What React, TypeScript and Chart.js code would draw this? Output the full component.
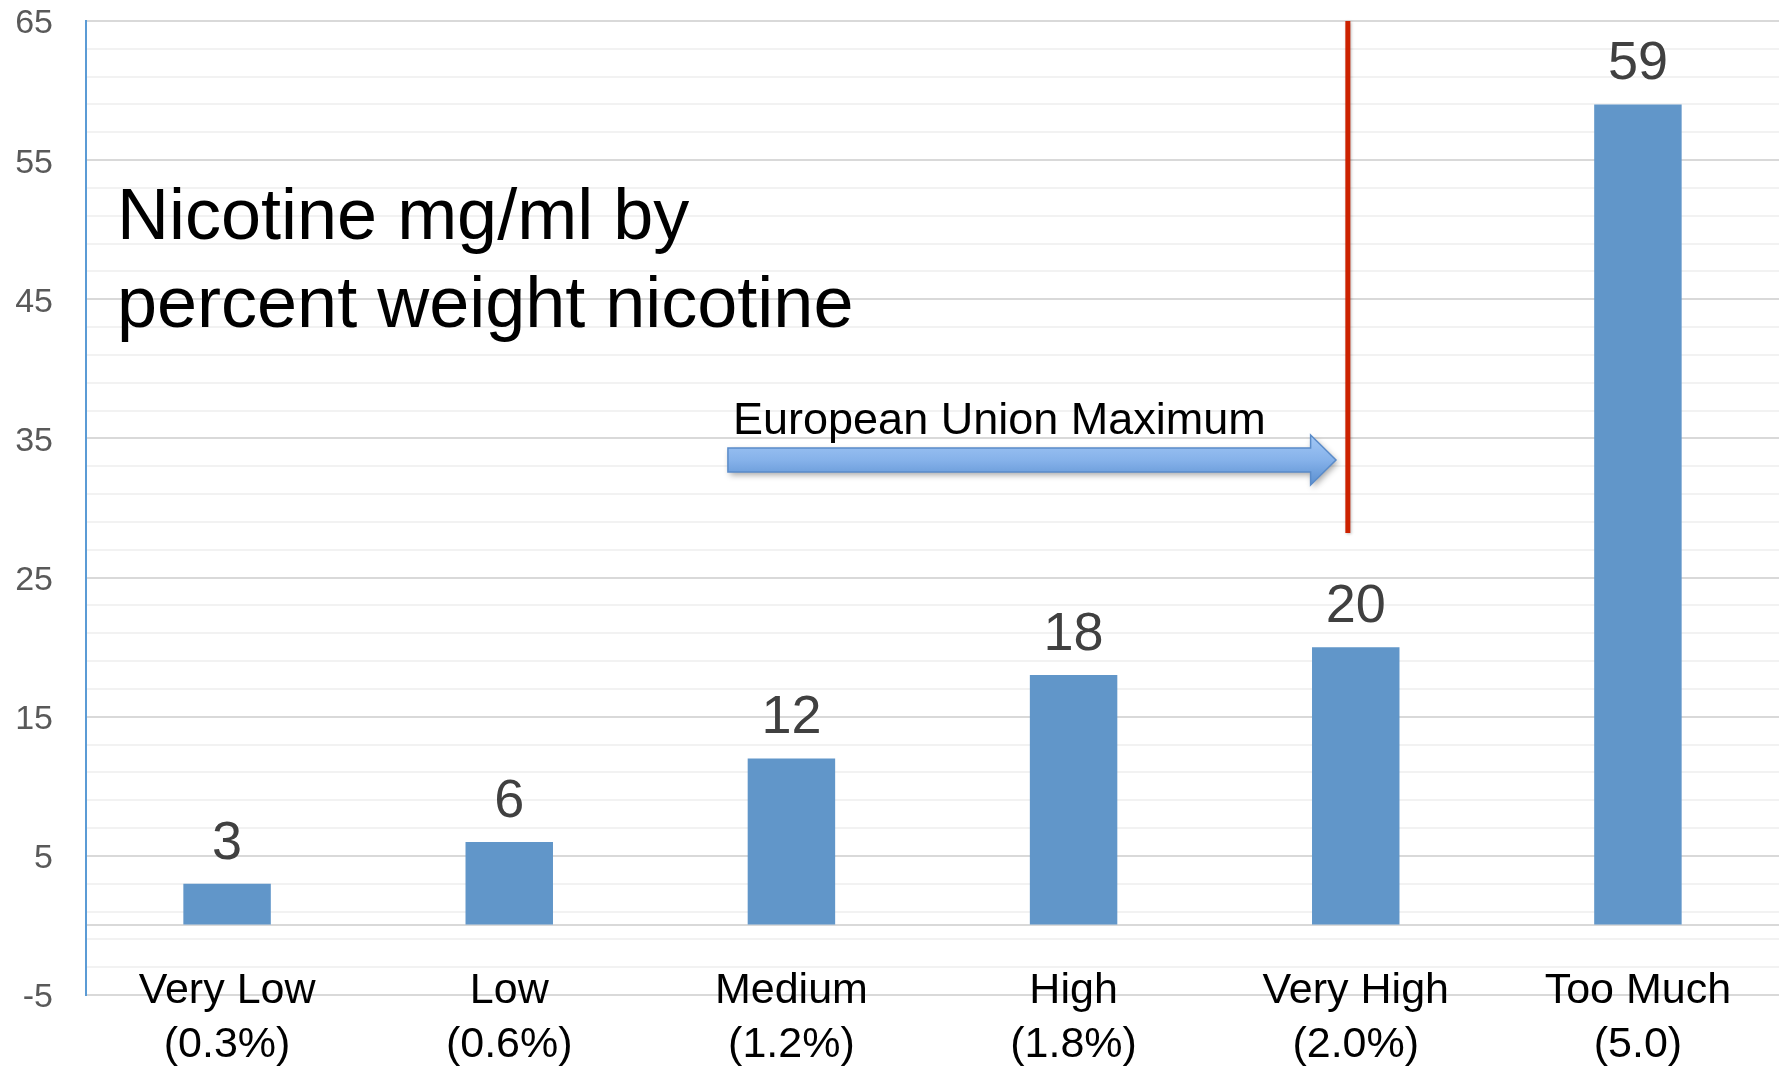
import React, { useEffect, useRef } from "react";
import { Chart, registerables } from "chart.js";

Chart.register(...registerables);

const categories: string[][] = [
  ["Very Low", "(0.3%)"],
  ["Low", "(0.6%)"],
  ["Medium", "(1.2%)"],
  ["High", "(1.8%)"],
  ["Very High", "(2.0%)"],
  ["Too Much", "(5.0)"],
];
const nicotineMgMl: number[] = [3, 6, 12, 18, 20, 59];
const yMin = -5;
const yMax = 65;
const yTickStep = 2;
const yLabelStep = 10;
const titleLines: string[] = ["Nicotine mg/ml by", "percent weight nicotine"];
const euLabel = "European Union Maximum";
// EU maximum marker, in category/value units
const euLineX = 3.972;
const euLineTopValue = 65;
const euLineBottomValue = 28.2;
const arrowStartX = 1.775;
const arrowHeadX = 3.84;
const arrowTipX = 3.93;
const arrowValue = 33.45;

const FONT = "'Liberation Sans', Arial, sans-serif";

export default function App() {
  const ref = useRef<HTMLCanvasElement | null>(null);

  useEffect(() => {
    if (!ref.current) return;
    const tickValues: number[] = [];
    for (let v = yMin; v <= yMax; v += yTickStep) {
      tickValues.push(v);
      if (v < 0 && v + yTickStep > 0) tickValues.push(0);
    }
    const isMajor = (v: number) => (v - yMin) % yLabelStep === 0;

    const overlay = {
      id: "overlay",
      afterDatasetsDraw(chart: any) {
        const ctx = chart.ctx;
        const xs = chart.scales.x;
        const ys = chart.scales.y;

        // category labels (drawn across the bottom of the plot)
        ctx.save();
        ctx.font = `43px ${FONT}`;
        ctx.fillStyle = "#000";
        ctx.textAlign = "center";
        ctx.textBaseline = "alphabetic";
        categories.forEach((lines, i) => {
          const x = xs.getPixelForTick(i);
          lines.forEach((t, j) => ctx.fillText(t, x, 1003 + j * 54));
        });
        ctx.restore();

        // data labels
        const meta = chart.getDatasetMeta(0);
        ctx.save();
        ctx.font = `54px ${FONT}`;
        ctx.fillStyle = "#404040";
        ctx.textAlign = "center";
        ctx.textBaseline = "alphabetic";
        meta.data.forEach((el: any, i: number) => {
          ctx.fillText(String(nicotineMgMl[i]), el.x, el.y - 25);
        });
        ctx.restore();

        // title
        ctx.save();
        ctx.font = `72px ${FONT}`;
        ctx.fillStyle = "#000";
        ctx.textAlign = "left";
        ctx.textBaseline = "alphabetic";
        ctx.fillText(titleLines[0], 117, 239);
        ctx.fillText(titleLines[1], 117, 327);
        ctx.restore();

        // red line
        const rx = xs.getPixelForValue(euLineX);
        ctx.save();
        ctx.strokeStyle = "#CC2200";
        ctx.lineWidth = 5;
        ctx.shadowColor = "rgba(0,0,0,0.25)";
        ctx.shadowBlur = 3;
        ctx.shadowOffsetX = 1;
        ctx.shadowOffsetY = 1;
        ctx.beginPath();
        ctx.moveTo(rx, ys.getPixelForValue(euLineTopValue));
        ctx.lineTo(rx, ys.getPixelForValue(euLineBottomValue));
        ctx.stroke();
        ctx.restore();

        // EU label
        ctx.save();
        ctx.font = `45px ${FONT}`;
        ctx.fillStyle = "#000";
        ctx.textAlign = "left";
        ctx.textBaseline = "alphabetic";
        ctx.fillText(euLabel, 733, 434);
        ctx.restore();

        // arrow
        const ax0 = xs.getPixelForValue(arrowStartX);
        const axh = xs.getPixelForValue(arrowHeadX);
        const axt = xs.getPixelForValue(arrowTipX);
        const ay = ys.getPixelForValue(arrowValue);
        const bh = 12;
        const hh = 25;
        ctx.save();
        ctx.beginPath();
        ctx.moveTo(ax0, ay - bh);
        ctx.lineTo(axh, ay - bh);
        ctx.lineTo(axh, ay - hh);
        ctx.lineTo(axt, ay);
        ctx.lineTo(axh, ay + hh);
        ctx.lineTo(axh, ay + bh);
        ctx.lineTo(ax0, ay + bh);
        ctx.closePath();
        const g = ctx.createLinearGradient(0, ay - hh, 0, ay + hh);
        g.addColorStop(0, "#A3C8F5");
        g.addColorStop(0.5, "#86B2EA");
        g.addColorStop(1, "#5A8FD0");
        ctx.fillStyle = g;
        ctx.shadowColor = "rgba(0,0,0,0.35)";
        ctx.shadowBlur = 6;
        ctx.shadowOffsetX = 2;
        ctx.shadowOffsetY = 3;
        ctx.fill();
        ctx.shadowColor = "transparent";
        ctx.strokeStyle = "#5A8BC9";
        ctx.lineWidth = 1.5;
        ctx.stroke();
        ctx.restore();
      },
    };

    const chart = new Chart(ref.current, {
      type: "bar",
      data: {
        labels: categories,
        datasets: [
          {
            data: nicotineMgMl,
            backgroundColor: "#6196C9",
            barPercentage: 0.31,
            categoryPercentage: 1,
          },
        ],
      },
      options: {
        responsive: false,
        animation: false,
        layout: { padding: { top: 21, right: 4, left: 0, bottom: 0 } },
        plugins: { legend: { display: false }, tooltip: { enabled: false } },
        scales: {
          x: {
            grid: { display: false, drawTicks: false },
            border: { display: false },
            ticks: { display: false },
            afterFit: (s: any) => {
              s.height = 72;
              s.paddingLeft = 0;
              s.paddingRight = 0;
            },
          },
          y: {
            min: yMin,
            max: yMax,
            afterBuildTicks: (s: any) => {
              s.ticks = tickValues.map((v) => ({ value: v }));
            },
            grid: {
              drawTicks: false,
              lineWidth: 2,
              color: (c: any) => {
                const v = c.tick ? c.tick.value : 0;
                return isMajor(v) || v === 0 ? "#D9D9D9" : "#F2F2F2";
              },
            },
            border: { color: "#5B9BD5", width: 2 },
            ticks: {
              autoSkip: false,
              padding: 33,
              labelOffset: 3,
              color: "#595959",
              font: { family: FONT, size: 34 },
              callback: (v: any) => (isMajor(Number(v)) ? String(v) : ""),
            },
            afterFit: (s: any) => {
              s.width = 86;
              s.paddingTop = 0;
              s.paddingBottom = 0;
            },
          },
        },
      },
      plugins: [overlay],
    });
    return () => chart.destroy();
  }, []);

  return (
    <div style={{ position: "fixed", left: 0, top: 0, width: 1783, height: 1067, background: "#fff" }}>
      <canvas ref={ref} width={1783} height={1067} style={{ display: "block", width: 1783, height: 1067 }} />
    </div>
  );
}
